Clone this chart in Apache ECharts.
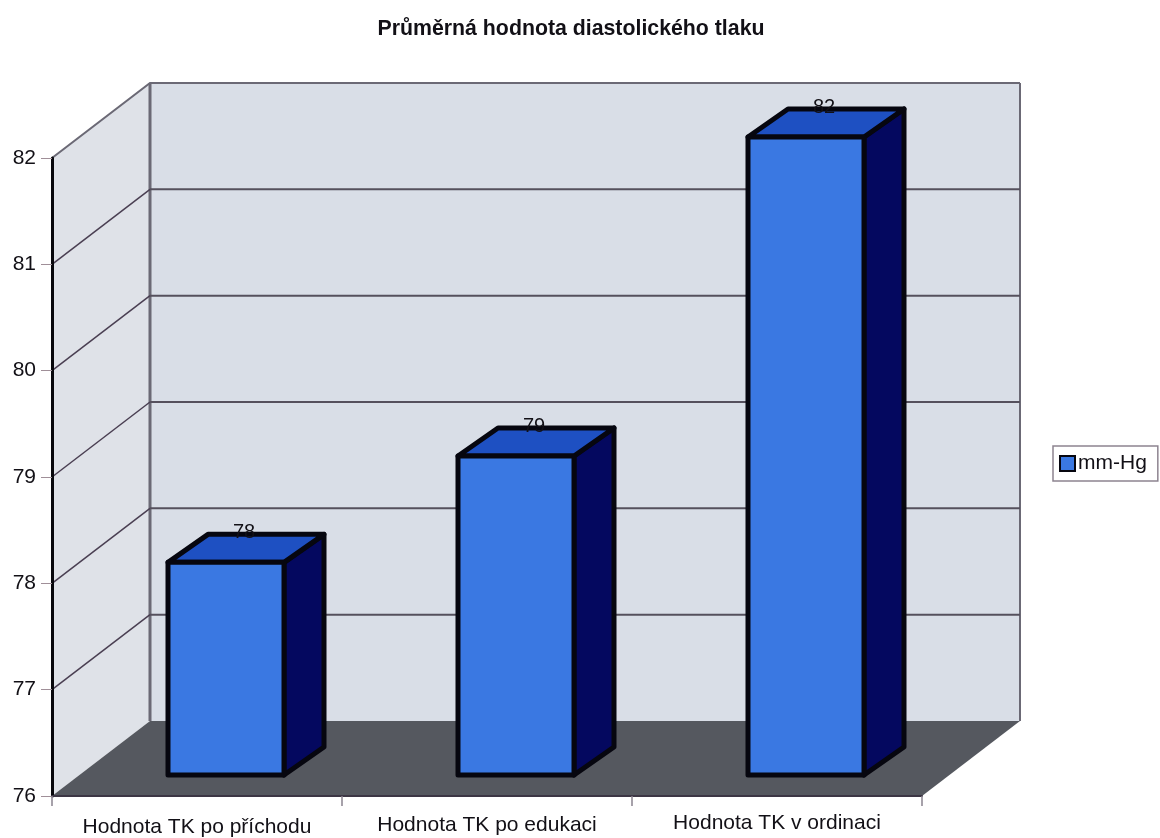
<!DOCTYPE html>
<html>
<head>
<meta charset="utf-8">
<style>
  html, body { margin: 0; padding: 0; background: #fff; }
  #chart { width: 1160px; height: 838px; }
</style>
<script src="https://cdn.jsdelivr.net/npm/echarts@6/dist/echarts.min.js"></script>
</head>
<body>
<div id="chart"></div>
<script>
// Average diastolic pressure at three measurement moments
const chartTitle = 'Průměrná hodnota diastolického tlaku';
const categories = ['Hodnota TK po příchodu', 'Hodnota TK po edukaci', 'Hodnota TK v ordinaci'];
const seriesName = 'mm-Hg';
const values = [78, 79, 82];
const gridTicks = [77, 78, 79, 80, 81, 82];

const FONT = '"Liberation Sans", Arial, sans-serif';
const INK = '#121016';

// Oblique projection used for the box and the columns
const roomDepth = [98, -75];
const barFront = [29, -21];
const barBack = [69, -49];
const barWidthRatio = 0.4;

// Category labels step upward slightly from left to right
const labelDrop = [4, 2, 0];

const COLORS = {
  wall: '#d9dee7',
  sideWall: '#dfe2e8',
  floor: '#55585f',
  frame: '#6b6975',
  grid: '#55505d',
  front: '#3a78e2',
  top: '#1e50c2',
  side: '#04085f',
  edge: '#06060f'
};

const poly = (points, fill, stroke, lineWidth) => ({
  type: 'polygon',
  shape: { points },
  style: { fill, stroke: stroke || 'none', lineWidth: lineWidth || 0, lineJoin: 'round' }
});
const path = (points, stroke, lineWidth) => ({
  type: 'polyline',
  shape: { points },
  style: { fill: 'none', stroke, lineWidth }
});

// Back wall, side wall and floor of the box
function renderRoom(params, api) {
  const r = params.coordSys;
  const [dx, dy] = roomDepth;
  const x0 = r.x, x1 = r.x + r.width, yTop = r.y, yBase = r.y + r.height;
  return {
    type: 'group',
    children: [
      poly([[x0, yBase], [x0 + dx, yBase + dy], [x0 + dx, yTop + dy], [x0, yTop]], COLORS.sideWall),
      poly([[x0 + dx, yBase + dy], [x1 + dx, yBase + dy], [x1 + dx, yTop + dy], [x0 + dx, yTop + dy]], COLORS.wall),
      poly([[x0, yBase], [x1, yBase], [x1 + dx, yBase + dy], [x0 + dx, yBase + dy]], COLORS.floor),
      path([[x0 + dx, yBase + dy], [x0 + dx, yTop + dy]], COLORS.frame, 3),
      path([[x1 + dx, yBase + dy], [x1 + dx, yTop + dy]], COLORS.frame, 2),
      path([[x0, yTop], [x0 + dx, yTop + dy], [x1 + dx, yTop + dy]], COLORS.frame, 2)
    ]
  };
}

// One gridline per tick, running along the side wall and across the back wall
function renderGridline(params, api) {
  const r = params.coordSys;
  const [dx, dy] = roomDepth;
  const y = api.coord([0, api.value(0)])[1];
  return {
    type: 'group',
    children: [
      path([[r.x, y], [r.x + dx, y + dy]], '#4a3f52', 1.5),
      path([[r.x + dx, y + dy], [r.x + r.width + dx, y + dy]], COLORS.grid, 2)
    ]
  };
}

// A column: front face, top and right side, with its value over the rear edge
function renderColumn(params, api) {
  const index = api.value(0);
  const value = api.value(1);
  const base = api.coord([index, 76]);
  const head = api.coord([index, value]);
  const half = api.size([1, 0])[0] * barWidthRatio / 2;
  const left = base[0] + barFront[0] - half;
  const right = base[0] + barFront[0] + half;
  const bottom = base[1] + barFront[1];
  const top = head[1] + barFront[1];
  const ox = barBack[0] - barFront[0];
  const oy = barBack[1] - barFront[1];
  return {
    type: 'group',
    children: [
      poly([[right, top], [right + ox, top + oy], [right + ox, bottom + oy], [right, bottom]], COLORS.side, COLORS.edge, 5),
      poly([[left, top], [left + ox, top + oy], [right + ox, top + oy], [right, top]], COLORS.top, COLORS.edge, 5),
      poly([[left, top], [right, top], [right, bottom], [left, bottom]], COLORS.front, COLORS.edge, 5),
      {
        type: 'text',
        style: {
          x: (left + right) / 2 + 18,
          y: top + oy - 2,
          text: String(value),
          fill: INK,
          font: '20px ' + FONT,
          align: 'center',
          verticalAlign: 'middle'
        }
      }
    ]
  };
}

const chart = echarts.init(document.getElementById('chart'), null, { renderer: 'canvas' });
chart.setOption({
  backgroundColor: '#ffffff',
  animation: false,
  title: {
    text: chartTitle,
    left: 566,
    top: 14,
    textAlign: 'center',
    textStyle: { fontFamily: FONT, fontSize: 21.3, fontWeight: 'bold', color: INK }
  },
  legend: {
    data: [{ name: seriesName, icon: 'rect' }],
    left: 1053,
    top: 446,
    padding: [7, 11, 7, 6],
    itemWidth: 15,
    itemHeight: 15,
    itemGap: 0,
    backgroundColor: '#ffffff',
    borderColor: '#8d8490',
    borderWidth: 1.5,
    selectedMode: false,
    textStyle: { fontFamily: FONT, fontSize: 21, color: INK, padding: [0, 0, 0, -2] }
  },
  grid: { left: 52, right: 238, top: 158, bottom: 42 },
  xAxis: {
    type: 'category',
    data: categories,
    z: 5,
    axisLine: { lineStyle: { color: '#3c3644', width: 2 } },
    axisTick: { show: true, alignWithLabel: false, length: 10, lineStyle: { color: '#8a8490', width: 1.5 } },
    axisLabel: {
      margin: 17,
      interval: 0,
      fontFamily: FONT,
      fontSize: 21,
      color: INK,
      formatter: (name, i) => `{c${i}|${name}}`,
      rich: Object.fromEntries(labelDrop.map((d, i) => [`c${i}`, {
        fontFamily: FONT, fontSize: 21, color: INK, padding: [d, 0, 0, 0]
      }]))
    }
  },
  yAxis: {
    type: 'value',
    min: 76,
    max: 82,
    interval: 1,
    z: 5,
    axisLine: { show: true, lineStyle: { color: '#08080c', width: 3 } },
    axisTick: { show: true, length: 11, lineStyle: { color: '#a08f98', width: 1 } },
    axisLabel: { margin: 16, fontFamily: FONT, fontSize: 21, color: INK, padding: [3, 0, 0, 0] },
    splitLine: { show: false }
  },
  series: [
    { type: 'custom', name: 'room', coordinateSystem: 'cartesian2d', z: 1, silent: true,
      renderItem: renderRoom, data: [[0]], encode: { y: 0 } },
    { type: 'custom', name: 'gridlines', coordinateSystem: 'cartesian2d', z: 2, silent: true,
      renderItem: renderGridline, data: gridTicks.slice(0, -1).map(v => [v]), encode: { y: 0 } },
    { type: 'custom', name: seriesName, coordinateSystem: 'cartesian2d', z: 3,
      itemStyle: { color: COLORS.front, borderColor: COLORS.edge, borderWidth: 3 },
      renderItem: renderColumn,
      data: values.map((v, i) => [i, v]),
      encode: { x: 0, y: 1 } }
  ]
});
</script>
</body>
</html>
